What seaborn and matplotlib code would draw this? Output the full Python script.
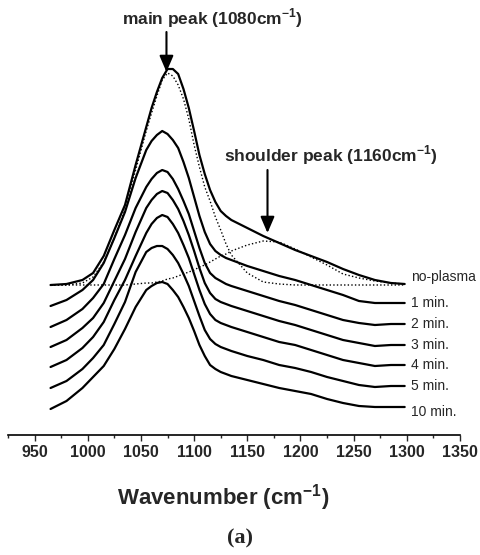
import numpy as np
import pandas as pd
import matplotlib
matplotlib.use("Agg")
import matplotlib.pyplot as plt
import seaborn as sns

# ---- data (arbitrary absorbance units) ----
wavenumber = [965, 980, 995, 1005, 1015, 1025, 1035, 1045, 1055, 1060, 1065, 1070,
              1075, 1080, 1085, 1090, 1095, 1100, 1105, 1110, 1115, 1120, 1125, 1130,
              1135, 1150, 1165, 1180, 1195, 1210, 1225, 1240, 1255, 1270, 1285, 1298]

series_names = ["no-plasma", "1 min.", "2 min.", "3 min.", "4 min.", "5 min.", "10 min."]

no_plasma = [0, 1, 5, 12, 29, 55, 80, 120, 158, 177, 193, 207, 216, 216, 211, 196, 177,
             154, 130, 111, 95, 83, 74, 69, 65, 57, 49, 42, 35, 29, 23, 16, 10, 5, 2, 1]
min_1 = [0, 6, 16, 26, 43, 68, 94, 128, 156, 165, 171, 175, 172, 166, 158, 144, 128,
         109, 90, 74, 62, 55, 51, 48, 46, 40, 35, 30, 26, 21, 16, 11, 5, 3, 3, 3]
min_2 = [0, 7, 18, 29, 43, 68, 92, 119, 140, 148, 154, 157, 155, 148, 138, 126, 113,
         96, 79, 64, 54, 49, 46, 43, 41, 36, 31, 26, 22, 17, 12, 7, 4, 2, 3, 3]
min_3 = [0, 7, 19, 29, 44, 66, 88, 115, 139, 147, 153, 156, 154, 147, 138, 126, 112,
         96, 79, 64, 54, 48, 45, 43, 41, 36, 31, 26, 22, 17, 12, 7, 4, 1, 2, 2]
min_4 = [0, 7, 19, 30, 45, 67, 87, 111, 134, 143, 149, 152, 150, 143, 134, 122, 109,
         93, 77, 63, 53, 47, 44, 42, 40, 35, 30, 25, 22, 17, 12, 7, 4, 1, 2, 2]
min_5 = [0, 7, 19, 30, 43, 64, 86, 116, 136, 140, 142, 142, 139, 133, 125, 114, 102,
         87, 72, 58, 49, 44, 41, 39, 37, 32, 28, 23, 20, 16, 11, 7, 3, 1, 2, 2]
min_10 = [0, 8, 21, 32, 43, 60, 80, 102, 119, 123, 126, 127, 125, 119, 112, 102, 91,
          78, 64, 53, 44, 40, 37, 35, 33, 29, 25, 21, 18, 15, 10, 6, 3, 2, 2, 2]

# fitted components of the no-plasma spectrum (dotted)
main_component = [0, 0, 2, 8, 23, 47, 75, 115, 154, 172, 189, 205, 212, 209, 200, 186,
                  166, 140, 118, 98, 84, 68, 55, 41, 30, 12, 3, 1, 0, 0, 0, 0, 0, 0, 0, 0]
shoulder_component = [0, 0, 0, 0, 0, 0, 0, 1, 2, 2, 3, 4, 6, 7, 9, 11, 13, 15, 18, 20,
                      23, 26, 29, 31, 34, 40, 44, 43, 36, 28, 20, 11, 7, 4, 2, 1]

# vertical stacking offsets of the spectra
offsets = [124, 103, 82, 62, 42, 21, 0]

annotations = ["main peak (1080cm$^{\\mathbf{-1}}$)", "shoulder peak (1160cm$^{\\mathbf{-1}}$)"]
peak_positions = [1074, 1169]
x_ticks = [950, 1000, 1050, 1100, 1150, 1200, 1250, 1300, 1350]

# ---- style ----
sns.set_style("white")
plt.rcParams["font.family"] = ["Liberation Sans", "DejaVu Sans"]
plt.rcParams["mathtext.fontset"] = "custom"
plt.rcParams["mathtext.rm"] = "Liberation Sans"
plt.rcParams["mathtext.bf"] = "Liberation Sans:bold"

W, H = 480, 555
fig = plt.figure(figsize=(W / 100, H / 100), dpi=100)
ax = fig.add_axes([8 / W, 1 - 435 / H, 452 / W, 435 / H])

all_series = [no_plasma, min_1, min_2, min_3, min_4, min_5, min_10]
rows = []
for name, vals, off in zip(series_names, all_series, offsets):
    for w, v in zip(wavenumber, vals):
        rows.append({"wavenumber": w, "absorbance": v + off, "series": name})
df = pd.DataFrame(rows)

for name in series_names:
    sub = df[df["series"] == name]
    sns.lineplot(data=sub, x="wavenumber", y="absorbance", color="black", lw=1.6,
                 ax=ax, estimator=None, sort=False)

for comp in [main_component, shoulder_component]:
    sns.lineplot(x=wavenumber, y=np.array(comp) + offsets[0], color="black", lw=1.0,
                 linestyle=(0, (1, 1.6)), ax=ax, estimator=None, sort=False)

# series labels
nudges = [7, 0, 0, 0, 0, 0, -5]
for name, vals, off, nd in zip(series_names, all_series, offsets, nudges):
    ax.text(1304, vals[-1] + off + nd, name, fontsize=10, va="center", ha="left",
            clip_on=False)

# peak annotations
ax.annotate("", xy=(peak_positions[0], 337), xytext=(peak_positions[0], 377),
            arrowprops=dict(arrowstyle="-|>,head_length=0.7,head_width=0.3",
                            color="black", lw=1.5, shrinkA=0, shrinkB=0,
                            mutation_scale=14))
ax.annotate("", xy=(peak_positions[1], 176), xytext=(peak_positions[1], 239),
            arrowprops=dict(arrowstyle="-|>,head_length=0.7,head_width=0.3",
                            color="black", lw=1.5, shrinkA=0, shrinkB=0,
                            mutation_scale=14))
ax.text(1117.5, 391, annotations[0], fontsize=12.5, fontweight="bold",
        ha="center", va="center")
ax.text(1228.6, 254, annotations[1], fontsize=12.5, fontweight="bold",
        ha="center", va="center")

# axes
ax.set_xlim(925, 1350)
ax.set_ylim(-26, 409)
ax.set_xticks(x_ticks)
ax.set_xticks(np.arange(925, 1351, 25), minor=True)
ax.set_xticklabels([str(t) for t in x_ticks], fontweight="bold", fontsize=11.5)
ax.tick_params(axis="x", which="major", direction="out", length=4, width=1,
               pad=3.5, bottom=True)
ax.tick_params(axis="x", which="minor", direction="out", length=2.5, width=1,
               bottom=True)
ax.set_yticks([])
for s in ["left", "right", "top"]:
    ax.spines[s].set_visible(False)
ax.spines["bottom"].set_linewidth(1.2)
ax.spines["bottom"].set_color("black")
ax.set_xlabel("")
ax.set_ylabel("")
ax.patch.set_alpha(0)

fig.text(223 / W, 1 - 498 / H, "Wavenumber (cm$^{\\mathbf{-1}}$)", fontsize=16,
         fontweight="bold", ha="center", va="center")
fig.text(240 / W, 1 - 538 / H, "(a)", fontsize=16, fontweight="bold",
         family=["Liberation Serif", "DejaVu Serif"], ha="center", va="center")

fig.savefig("out.png", dpi=100)
